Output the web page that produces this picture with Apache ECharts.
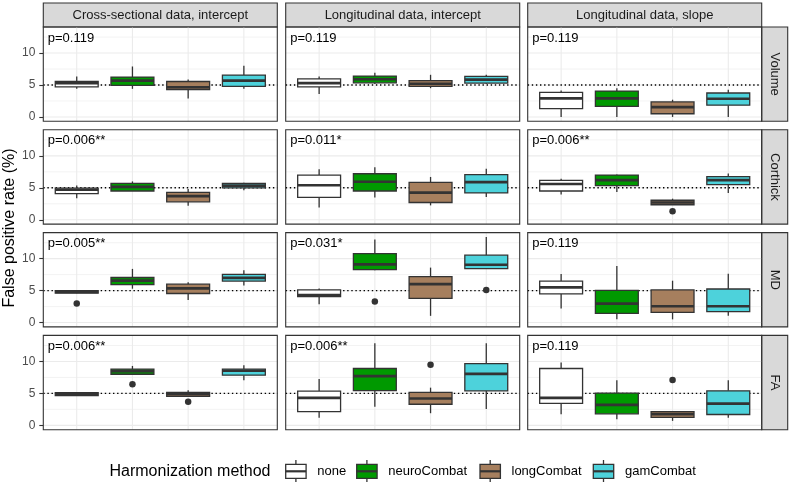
<!DOCTYPE html>
<html>
<head>
<meta charset="utf-8">
<script src="https://cdn.jsdelivr.net/npm/echarts@6/dist/echarts.min.js"></script>
<style>html,body{margin:0;padding:0;background:#fff;}#c{width:790px;height:484px;}</style>
</head>
<body>
<div id="c"></div>
<script>
// ---- data ----
const methods = ['none', 'neuroCombat', 'longCombat', 'gamCombat'];
const measures = ['Volume', 'Corthick', 'MD', 'FA'];
const analyses = ['Cross-sectional data, intercept', 'Longitudinal data, intercept', 'Longitudinal data, slope'];
const yTicks = [0, 5, 10];
const yMinorTicks = [2.5, 7.5, 12.5];
const refValue = 5;

// box stats per method: [lower whisker, Q1, median, Q3, upper whisker]
const vol_cs = [[4.4,4.7,5.3,5.55,6.35],[4.4,4.95,5.7,6.25,7.9],[2.9,4.3,4.65,5.55,5.85],[4.4,4.8,5.7,6.55,8.0]];
const vol_li = [[3.6,4.7,5.3,5.95,6.35],[5.15,5.35,5.9,6.4,6.9],[4.5,4.8,5.2,5.7,6.6],[5.2,5.3,5.85,6.35,6.6]];
const vol_ls = [[0,1.3,2.9,3.85,4.15],[0,1.65,2.9,4.05,4.5],[0,0.5,1.55,2.35,2.7],[0,1.85,2.85,3.75,4.25]];
const ct_cs = [[3.35,4.1,4.7,4.95,5.35],[4.5,4.5,5.15,5.7,6.0],[2.2,2.8,3.7,4.3,4.8],[4.6,5.0,5.35,5.7,5.8]];
const ct_li = [[1.9,3.5,5.4,7.0,7.9],[3.5,4.5,5.95,7.2,8.2],[2.25,2.7,4.25,5.85,6.7],[3.55,4.2,5.9,7.05,8.0]];
const ct_ls = [[3.95,4.5,5.6,6.15,6.4],[4.35,5.35,6.2,7.0,7.1],[2.35,2.35,2.7,3.05,3.3],[4.2,5.5,6.2,6.75,7.25]];
const md_cs = [[4.55,4.6,4.8,5.0,5.1],[5.3,5.95,6.55,7.05,8.4],[3.55,4.55,5.35,6.0,6.3],[5.8,6.5,7.0,7.55,8.2]];
const md_li = [[2.85,4.05,4.3,5.1,5.35],[8.2,8.3,9.1,10.8,13.0],[1.05,3.8,6.0,7.2,8.6],[8.4,8.45,9.05,10.55,13.4]];
const md_ls = [[2.2,4.5,5.5,6.5,7.6],[0.5,1.45,2.95,5.05,8.85],[0.5,1.6,2.55,5.1,6.55],[1.05,1.7,2.55,5.25,7.65]];
const fa_cs = [[4.65,4.65,4.9,5.1,5.1],[8.0,8.0,8.5,8.8,9.3],[4.55,4.55,4.9,5.15,5.5],[7.05,7.85,8.55,8.8,9.4]];
const fa_li = [[1.2,2.15,4.3,5.35,7.25],[2.9,5.45,7.7,8.9,12.85],[1.9,3.3,4.2,5.15,5.9],[2.55,5.4,8.05,9.65,12.85]];
const fa_ls = [[1.75,3.45,4.3,8.9,9.85],[0.95,1.8,3.2,5.05,7.05],[0.7,1.25,1.75,2.15,2.15],[1.2,1.7,3.4,5.4,7.05]];

// outliers: [method index, value]
const vol_cs_out = [], vol_li_out = [], vol_ls_out = [];
const ct_cs_out = [], ct_li_out = [], ct_ls_out = [[2,1.35]];
const md_cs_out = [[0,3.0]], md_li_out = [[1,3.3],[3,5.1]], md_ls_out = [];
const fa_cs_out = [[1,6.45],[2,3.7]], fa_li_out = [[2,9.5]], fa_ls_out = [[2,7.1]];

const pVolume = ['p=0.119', 'p=0.119', 'p=0.119'];
const pCorthick = ['p=0.006**', 'p=0.011*', 'p=0.006**'];
const pMD = ['p=0.005**', 'p=0.031*', 'p=0.119'];
const pFA = ['p=0.006**', 'p=0.006**', 'p=0.119'];

// ---- assembly ----
const boxes = [[vol_cs, vol_li, vol_ls], [ct_cs, ct_li, ct_ls], [md_cs, md_li, md_ls], [fa_cs, fa_li, fa_ls]];
const outs = [[vol_cs_out, vol_li_out, vol_ls_out], [ct_cs_out, ct_li_out, ct_ls_out], [md_cs_out, md_li_out, md_ls_out], [fa_cs_out, fa_li_out, fa_ls_out]];
const pvals = [pVolume, pCorthick, pMD, pFA];

const fills = ['#FFFFFF', '#009900', '#A67F5E', '#4DD2DB'];
const FONT = '"Liberation Sans", Arial, sans-serif';
const colLefts = [43.3, 285.7, 527.7];
const panelW = 234;
const rowTops = [27, 129.8, 232.6, 335.4];
const panelH = 94.3;
const yMin = -0.68, yMax = 14.08;
const boxW = 0.77;
const dark = '#333333';

const grids = [], xAxes = [], yAxes = [], series = [], graphics = [];

function panelRenderer(ptext) {
  return function (params, api) {
    const cs = params.coordSys;
    const ch = [];
    yMinorTicks.forEach(v => {
      const y = api.coord([0, v])[1];
      ch.push({type: 'line', shape: {x1: cs.x, y1: y, x2: cs.x + cs.width, y2: y}, style: {stroke: '#EBEBEB', lineWidth: 0.6}});
    });
    yTicks.forEach(v => {
      const y = api.coord([0, v])[1];
      ch.push({type: 'line', shape: {x1: cs.x, y1: y, x2: cs.x + cs.width, y2: y}, style: {stroke: '#EBEBEB', lineWidth: 1.1}});
    });
    methods.forEach((m, i) => {
      const x = api.coord([i, 0])[0];
      ch.push({type: 'line', shape: {x1: x, y1: cs.y, x2: x, y2: cs.y + cs.height}, style: {stroke: '#EBEBEB', lineWidth: 1.1}});
    });
    const yr = api.coord([0, refValue])[1];
    ch.push({type: 'line', shape: {x1: cs.x, y1: yr, x2: cs.x + cs.width, y2: yr}, style: {stroke: '#000', lineWidth: 1.4, lineDash: [1.4, 2.7]}});
    ch.push({type: 'rect', shape: {x: cs.x, y: cs.y, width: cs.width, height: cs.height}, style: {fill: null, stroke: dark, lineWidth: 1.1}});
    ch.push({type: 'text', x: cs.x + 4.5, y: cs.y + 11, style: {text: ptext, font: '13px ' + FONT, fill: '#000', verticalAlign: 'middle', align: 'left'}});
    return {type: 'group', children: ch};
  };
}

function renderBox(params, api) {
  const i = api.value(0);
  const lo = api.coord([i, api.value(1)]);
  const q1 = api.coord([i, api.value(2)]);
  const md = api.coord([i, api.value(3)]);
  const q3 = api.coord([i, api.value(4)]);
  const hi = api.coord([i, api.value(5)]);
  const hw = api.size([boxW, 0])[0] / 2;
  const x = lo[0];
  return {type: 'group', children: [
    {type: 'line', shape: {x1: x, y1: q3[1], x2: x, y2: hi[1]}, style: {stroke: dark, lineWidth: 1.3}},
    {type: 'line', shape: {x1: x, y1: q1[1], x2: x, y2: lo[1]}, style: {stroke: dark, lineWidth: 1.3}},
    {type: 'rect', shape: {x: x - hw, y: q3[1], width: hw * 2, height: q1[1] - q3[1]}, style: {fill: fills[i], stroke: dark, lineWidth: 1.3}},
    {type: 'line', shape: {x1: x - hw, y1: md[1], x2: x + hw, y2: md[1]}, style: {stroke: dark, lineWidth: 2.7}}
  ]};
}

let gi = 0;
measures.forEach((meas, r) => {
  analyses.forEach((an, c) => {
    grids.push({left: colLefts[c], top: rowTops[r], width: panelW, height: panelH, show: false});
    xAxes.push({type: 'value', gridIndex: gi, min: -0.6, max: 3.6, show: false});
    yAxes.push({
      type: 'value', gridIndex: gi, min: yMin, max: yMax,
      axisLine: {show: false, onZero: false},
      splitLine: {show: false},
      axisTick: {show: c === 0, length: 4, customValues: yTicks, lineStyle: {color: dark, width: 1.1}},
      axisLabel: {show: c === 0, customValues: yTicks, color: '#4D4D4D', fontSize: 12, fontFamily: FONT, margin: 8}
    });
    series.push({type: 'custom', xAxisIndex: gi, yAxisIndex: gi, z: 1, silent: true, clip: false,
      renderItem: panelRenderer(pvals[r][c]), data: [[0, 0]]});
    series.push({type: 'custom', xAxisIndex: gi, yAxisIndex: gi, z: 2, silent: true,
      renderItem: renderBox, encode: {x: 0, y: [1, 2, 3, 4, 5]},
      data: boxes[r][c].map((b, i) => [i].concat(b))});
    if (outs[r][c].length) {
      series.push({type: 'scatter', xAxisIndex: gi, yAxisIndex: gi, z: 3, silent: true,
        symbolSize: 6.5, itemStyle: {color: dark, opacity: 1}, data: outs[r][c]});
    }
    gi++;
  });
});

// column strips
analyses.forEach((an, c) => {
  graphics.push({type: 'rect', shape: {x: colLefts[c], y: 3, width: panelW, height: 24}, style: {fill: '#D9D9D9', stroke: dark, lineWidth: 1.1}});
  graphics.push({type: 'text', x: colLefts[c] + panelW / 2, y: 15.2, style: {text: an, font: '13px ' + FONT, fill: '#1A1A1A', align: 'center', verticalAlign: 'middle'}});
});
// row strips
measures.forEach((m, r) => {
  graphics.push({type: 'rect', shape: {x: colLefts[2] + panelW, y: rowTops[r], width: 26, height: panelH}, style: {fill: '#D9D9D9', stroke: dark, lineWidth: 1.1}});
  graphics.push({type: 'text', x: colLefts[2] + panelW + 13, y: rowTops[r] + panelH / 2, rotation: -Math.PI / 2,
    style: {text: m, font: '13px ' + FONT, fill: '#1A1A1A', align: 'center', verticalAlign: 'middle'}});
});
// y title
graphics.push({type: 'text', x: 10, y: 228, rotation: Math.PI / 2,
  style: {text: 'False positive rate (%)', font: '16px ' + FONT, fill: '#000', align: 'center', verticalAlign: 'middle'}});
// legend
const keyX = [285.7, 356.7, 480, 593.3];
const labelX = [317.3, 388.3, 511.5, 625];
graphics.push({type: 'text', x: 109.5, y: 471.5, style: {text: 'Harmonization method', font: '16px ' + FONT, fill: '#000', align: 'left', verticalAlign: 'middle'}});
methods.forEach((m, i) => {
  const kx = keyX[i], kw = 20.4;
  graphics.push({type: 'line', shape: {x1: kx + kw / 2, y1: 460, x2: kx + kw / 2, y2: 482}, style: {stroke: dark, lineWidth: 1.3}});
  graphics.push({type: 'rect', shape: {x: kx, y: 464.3, width: kw, height: 14}, style: {fill: fills[i], stroke: dark, lineWidth: 1.3}});
  graphics.push({type: 'line', shape: {x1: kx, y1: 471.3, x2: kx + kw, y2: 471.3}, style: {stroke: dark, lineWidth: 2.2}});
  graphics.push({type: 'text', x: labelX[i], y: 471.5, style: {text: m, font: '13px ' + FONT, fill: '#000', align: 'left', verticalAlign: 'middle'}});
});

const chart = echarts.init(document.getElementById('c'), null, {renderer: 'canvas'});
chart.setOption({
  animation: false,
  backgroundColor: '#fff',
  grid: grids, xAxis: xAxes, yAxis: yAxes, series: series,
  graphic: graphics
});
</script>
</body>
</html>
